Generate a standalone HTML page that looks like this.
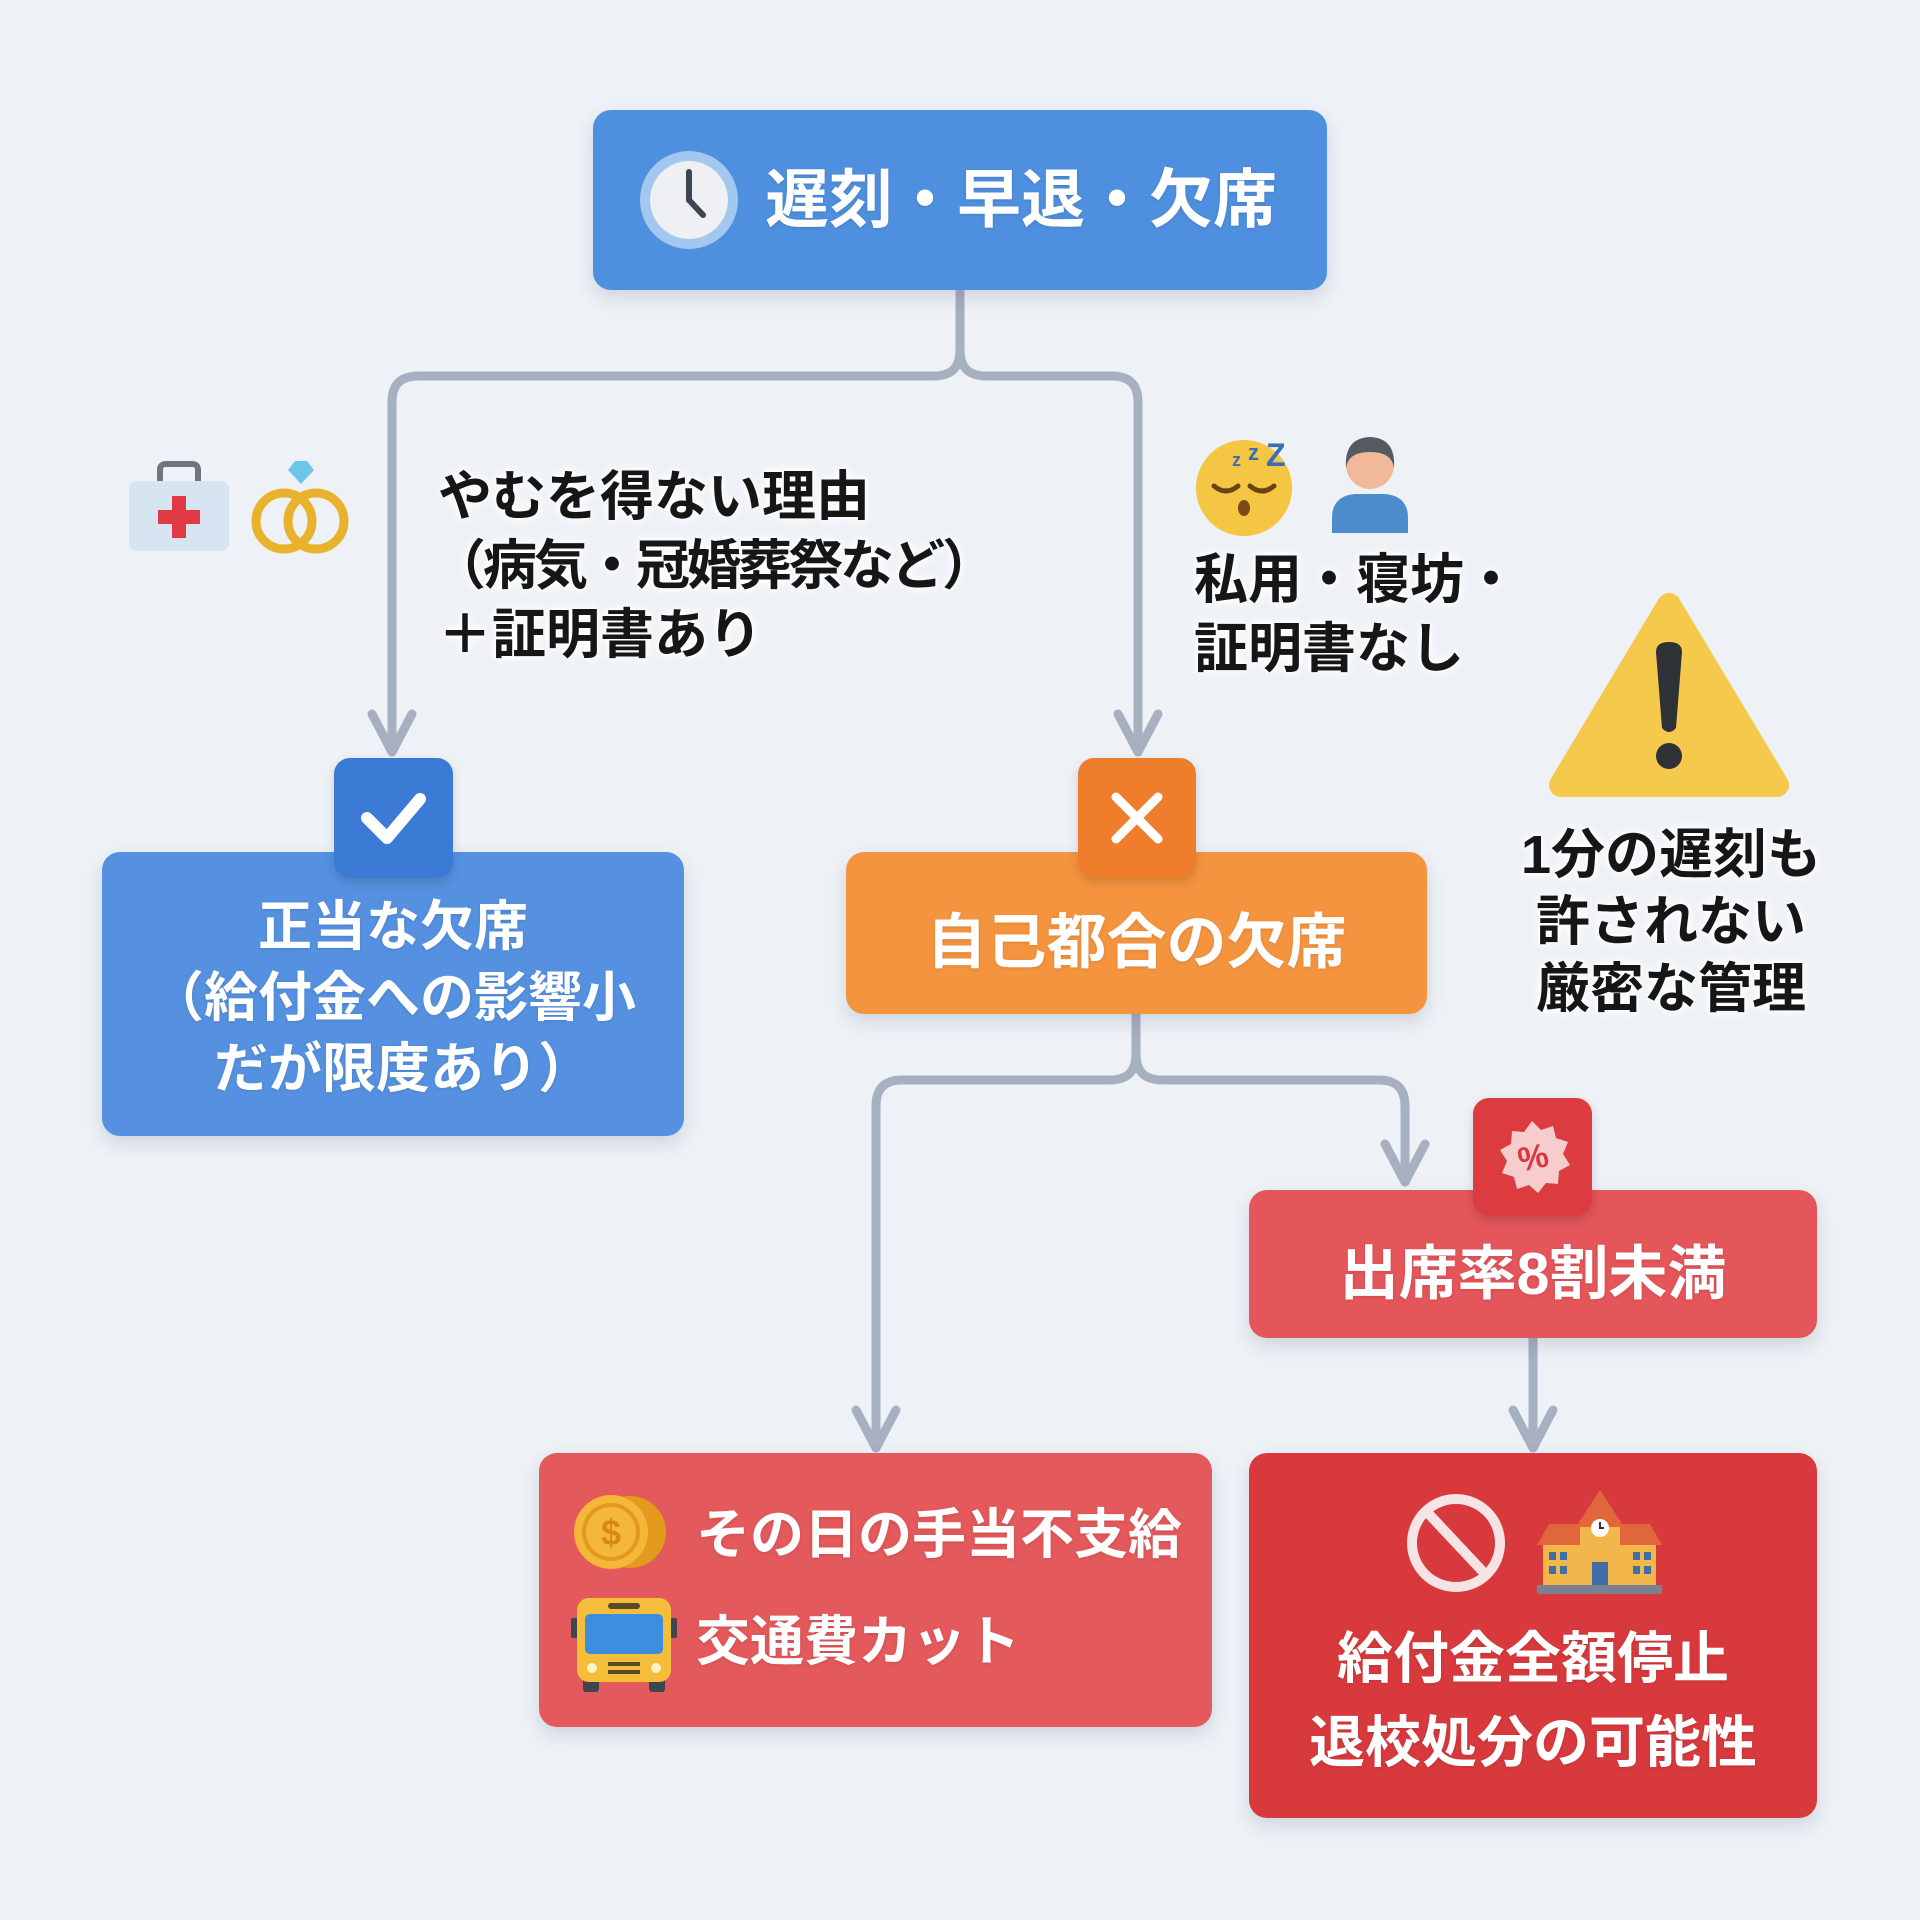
<!DOCTYPE html>
<html>
<head>
<meta charset="utf-8">
<style>
  html,body{margin:0;padding:0;}
  body{width:1920px;height:1920px;position:relative;overflow:hidden;background:#eef2f7;
    font-family:"Liberation Sans","Noto Sans CJK JP",sans-serif;font-weight:700;}
  .abs{position:absolute;}
  .box{position:absolute;border-radius:18px;box-shadow:0 8px 18px rgba(40,60,90,0.16);}
  .wt{color:#fff;text-shadow:0 1px 3px rgba(0,0,0,0.12);white-space:nowrap;}
  .dk{color:#161616;text-shadow:0 0 4px #fff,0 0 8px #fff,0 0 12px #fff;white-space:nowrap;}
  .badge{position:absolute;border-radius:16px;box-shadow:0 4px 10px rgba(0,0,0,0.15);}
</style>
</head>
<body>

<!-- connectors -->
<svg class="abs" style="left:0;top:0" width="1920" height="1920" viewBox="0 0 1920 1920">
  <g fill="none" stroke="#a6b0c1" stroke-width="9" stroke-linecap="round" stroke-linejoin="round">
    <path d="M960 290 V350 Q960 376 934 376 H418 Q392 376 392 402 V752"/>
    <path d="M960 350 Q960 376 986 376 H1112 Q1138 376 1138 402 V752"/>
    <path d="M372 714 L392 752 L412 714"/>
    <path d="M1118 714 L1138 752 L1158 714"/>
    <path d="M1136 1014 V1054 Q1136 1080 1110 1080 H902 Q876 1080 876 1106 V1448"/>
    <path d="M1136 1054 Q1136 1080 1162 1080 H1379 Q1405 1080 1405 1106 V1182"/>
    <path d="M856 1410 L876 1448 L896 1410"/>
    <path d="M1385 1144 L1405 1182 L1425 1144"/>
    <path d="M1533 1338 V1448"/>
    <path d="M1513 1410 L1533 1448 L1553 1410"/>
  </g>
</svg>

<!-- top box -->
<div class="box" style="left:593px;top:110px;width:734px;height:180px;background:#4f8fdf;"></div>
<div class="abs wt" style="left:765px;top:160px;font-size:64px;line-height:80px;">遅刻・早退・欠席</div>

<!-- left label -->
<div class="abs dk" style="left:438px;top:463px;font-size:54px;line-height:69px;">やむを得ない理由<br><span style="letter-spacing:-3px;margin-left:-6px;">（病気・冠婚葬祭など）</span><br>＋証明書あり</div>

<!-- right label -->
<div class="abs dk" style="left:1194px;top:546px;font-size:54px;line-height:69px;">私用・寝坊・<br>証明書なし</div>

<!-- warning text -->
<div class="abs dk" style="left:1471px;width:400px;text-align:center;top:822px;font-size:54px;line-height:67px;">1分の遅刻も<br>許されない<br>厳密な管理</div>

<!-- left box -->
<div class="box" style="left:102px;top:852px;width:582px;height:284px;background:#5591e0;"></div>
<div class="abs wt" style="left:102px;width:582px;text-align:center;top:892px;font-size:54px;line-height:71px;">正当な欠席<br>（給付金への影響小<br><span style="margin-left:20px;">だが限度あり）</span></div>
<div class="badge" style="left:334px;top:758px;width:119px;height:120px;background:#3b7bd6;"></div>

<!-- orange box -->
<div class="box" style="left:846px;top:852px;width:581px;height:162px;background:#f5943f;"></div>
<div class="abs wt" style="left:846px;width:581px;text-align:center;top:899px;font-size:60px;line-height:88px;">自己都合の欠席</div>
<div class="badge" style="left:1078px;top:758px;width:118px;height:120px;background:#ee7d2c;"></div>

<!-- red box 8割 -->
<div class="box" style="left:1249px;top:1190px;width:568px;height:148px;background:#e4565a;"></div>
<div class="abs wt" style="left:1249px;width:568px;text-align:center;top:1230px;font-size:59px;line-height:88px;">出席率8割未満</div>
<div class="badge" style="left:1473px;top:1098px;width:119px;height:118px;background:#dc3b3f;"></div>

<!-- bottom left -->
<div class="box" style="left:539px;top:1453px;width:673px;height:274px;background:#e4595b;"></div>
<div class="abs wt" style="left:696px;top:1500px;font-size:54px;line-height:70px;">その日の手当不支給</div>
<div class="abs wt" style="left:696px;top:1607px;font-size:54px;line-height:70px;">交通費カット</div>

<!-- bottom right -->
<div class="box" style="left:1249px;top:1453px;width:568px;height:365px;background:#d8393d;"></div>
<div class="abs wt" style="left:1249px;width:568px;text-align:center;top:1617px;font-size:56px;line-height:84px;">給付金全額停止<br>退校処分の可能性</div>

<!-- icons -->
<svg class="abs" style="left:0;top:0" width="1920" height="1920" viewBox="0 0 1920 1920">
  <!-- clock -->
  <circle cx="689" cy="200" r="49" fill="#a3c8ef"/>
  <circle cx="689" cy="200" r="39" fill="#eef0f3"/>
  <g stroke="#3d4550" stroke-width="6" stroke-linecap="round">
    <line x1="689" y1="200" x2="689" y2="172"/>
    <line x1="689" y1="200" x2="703" y2="215"/>
  </g>

  <!-- first aid kit -->
  <path d="M160 484 V470 Q160 464 166 464 H192 Q198 464 198 470 V484" fill="none" stroke="#6d7580" stroke-width="6"/>
  <rect x="129" y="481" width="100" height="70" rx="8" fill="#d7e4f1"/>
  <rect x="172" y="496" width="14" height="42" fill="#e23a45"/>
  <rect x="158" y="510" width="42" height="14" fill="#e23a45"/>

  <!-- rings -->
  <circle cx="284" cy="521" r="28" fill="none" stroke="#e9b22c" stroke-width="9"/>
  <circle cx="316" cy="521" r="28" fill="none" stroke="#e9b22c" stroke-width="9"/>
  <polygon points="288,470 295,461 307,461 314,470 301,484" fill="#6cc6ea"/>

  <!-- sleepy face -->
  <circle cx="1244" cy="488" r="48" fill="#f5c544"/>
  <g fill="none" stroke="#6b4214" stroke-width="5" stroke-linecap="round">
    <path d="M1214 486 Q1226 496 1238 486"/>
    <path d="M1250 486 Q1262 496 1274 486"/>
  </g>
  <ellipse cx="1244" cy="508" rx="6" ry="8" fill="#7a4a1a"/>
  <g fill="#3b6fb5" font-family="Liberation Sans, sans-serif" font-weight="700">
    <text x="1232" y="466" font-size="18">z</text>
    <text x="1248" y="460" font-size="22">z</text>
    <text x="1266" y="466" font-size="32">Z</text>
  </g>

  <!-- person -->
  <path d="M1332 533 V518 Q1332 496 1355 494 H1385 Q1408 496 1408 518 V533 Z" fill="#4a8ccc"/>
  <circle cx="1370" cy="465" r="24" fill="#f1b99a"/>
  <path d="M1346 468 Q1344 438 1370 437 Q1396 438 1394 468 Q1392 452 1370 452 Q1348 452 1346 468 Z" fill="#555b63"/>

  <!-- warning -->
  <polygon points="1669,605 1561,785 1777,785" fill="#f5c94c" stroke="#f5c94c" stroke-width="24" stroke-linejoin="round"/>
  <path d="M1656 652 Q1656 642 1669 642 Q1682 642 1682 652 L1676 728 Q1669 736 1662 728 Z" fill="#2e3236"/>
  <circle cx="1669" cy="756" r="13" fill="#2e3236"/>

  <!-- check -->
  <polyline points="367,818 387,838 420,799" fill="none" stroke="#fff" stroke-width="12" stroke-linecap="round" stroke-linejoin="round"/>

  <!-- X -->
  <g stroke="#fff" stroke-width="9" stroke-linecap="round">
    <line x1="1116" y1="797" x2="1158" y2="839"/>
    <line x1="1158" y1="797" x2="1116" y2="839"/>
  </g>

  <!-- percent burst -->
  <polygon fill="#f7cccc" points="1532,1121 1541,1130 1553,1126 1556,1138 1568,1142 1563,1154 1570,1165 1559,1171 1558,1184 1546,1183 1538,1193 1529,1185 1517,1189 1514,1177 1502,1173 1507,1161 1500,1150 1511,1144 1512,1131 1524,1132"/>
  <text x="1533" y="1169" font-size="34" font-weight="700" fill="#d63a3e" text-anchor="middle" font-family="Liberation Sans, sans-serif" transform="rotate(-12 1533 1157)">%</text>

  <!-- coins -->
  <circle cx="630" cy="1532" r="36" fill="#e39a1c"/>
  <circle cx="611" cy="1532" r="37" fill="#f5b73a"/>
  <circle cx="611" cy="1532" r="27" fill="none" stroke="#e39a1c" stroke-width="4"/>
  <text x="611" y="1545" font-size="36" font-weight="700" fill="#d98a15" text-anchor="middle" font-family="Liberation Sans, sans-serif">$</text>

  <!-- bus -->
  <rect x="571" y="1618" width="8" height="20" rx="2" fill="#40464f"/>
  <rect x="669" y="1618" width="8" height="20" rx="2" fill="#40464f"/>
  <rect x="583" y="1676" width="16" height="16" rx="3" fill="#40464f"/>
  <rect x="649" y="1676" width="16" height="16" rx="3" fill="#40464f"/>
  <rect x="577" y="1598" width="94" height="84" rx="12" fill="#f4be3a"/>
  <rect x="608" y="1603" width="32" height="6" rx="3" fill="#5a4a2a"/>
  <rect x="585" y="1614" width="78" height="40" rx="5" fill="#3e8ee0"/>
  <rect x="608" y="1662" width="32" height="4" fill="#5a4a2a"/>
  <rect x="608" y="1670" width="32" height="4" fill="#5a4a2a"/>
  <circle cx="592" cy="1668" r="5" fill="#fff3c4"/>
  <circle cx="656" cy="1668" r="5" fill="#fff3c4"/>

  <!-- prohibited -->
  <circle cx="1456" cy="1543" r="44" fill="none" stroke="#f6e4e4" stroke-width="10"/>
  <line x1="1426" y1="1511" x2="1486" y2="1575" stroke="#f6e4e4" stroke-width="10"/>

  <!-- school -->
  <rect x="1543" y="1542" width="113" height="45" fill="#f2b64a"/>
  <polygon points="1537,1545 1549,1524 1582,1524 1582,1545" fill="#e2663b"/>
  <polygon points="1662,1545 1650,1524 1618,1524 1618,1545" fill="#e2663b"/>
  <rect x="1580" y="1520" width="40" height="67" fill="#f2b64a"/>
  <polygon points="1576,1527 1600,1490 1624,1527" fill="#e2663b"/>
  <circle cx="1600" cy="1528" r="9" fill="#fff"/>
  <path d="M1600 1522 V1528 H1604" stroke="#333" stroke-width="2" fill="none"/>
  <g fill="#3f6ea8">
    <rect x="1549" y="1552" width="7" height="8"/><rect x="1560" y="1552" width="7" height="8"/>
    <rect x="1549" y="1566" width="7" height="8"/><rect x="1560" y="1566" width="7" height="8"/>
    <rect x="1633" y="1552" width="7" height="8"/><rect x="1644" y="1552" width="7" height="8"/>
    <rect x="1633" y="1566" width="7" height="8"/><rect x="1644" y="1566" width="7" height="8"/>
    <rect x="1592" y="1562" width="16" height="25"/>
  </g>
  <rect x="1537" y="1585" width="125" height="9" fill="#7a8190"/>
</svg>

</body>
</html>
